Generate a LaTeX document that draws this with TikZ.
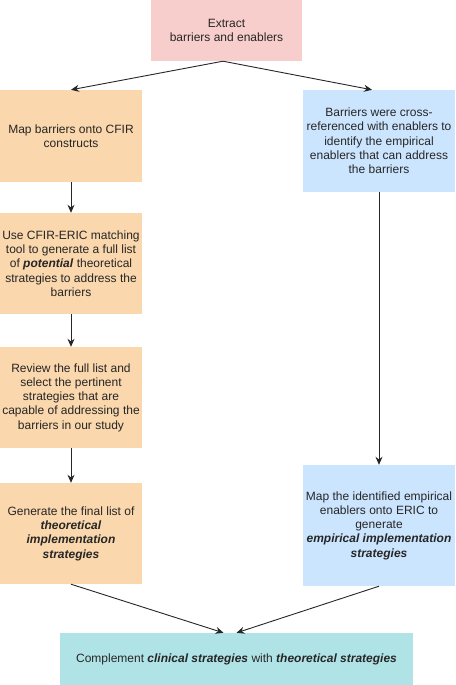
\documentclass[tikz,border=0pt]{standalone}
\usepackage{fontspec}
\setmainfont{Liberation Sans}
\usetikzlibrary{arrows.meta}
\definecolor{cpink}{HTML}{F8CECC}
\definecolor{corange}{HTML}{FAD7AC}
\definecolor{cblue}{HTML}{CCE5FF}
\definecolor{cteal}{HTML}{B0E3E6}
\tikzset{
  box/.style={rectangle, inner sep=0pt, align=center, font=\fontsize{12pt}{14.3pt}\selectfont, text=black!85},
  conn/.style={draw=black!85, line width=0.9pt, -{Stealth[length=8pt,width=7pt]}}
}
\begin{document}
\begin{tikzpicture}[x=1pt,y=-1pt]
\useasboundingbox (0,0) rectangle (455,685);
\node[box, fill=cpink, minimum width=151pt, minimum height=61pt] (top) at (226.5,30.5) {Extract\\barriers and enablers};
\node[box, fill=corange, minimum width=142pt, minimum height=92pt] (L1) at (71,136) {Map barriers onto CFIR\\constructs};
\node[box, fill=corange, minimum width=142pt, minimum height=101pt] (L2) at (71,263.5) {Use CFIR-ERIC matching\\tool to generate a full list\\of \textbf{\textit{potential}} theoretical\\strategies to address the\\barriers};
\node[box, fill=corange, minimum width=142pt, minimum height=101pt] (L3) at (71,397.5) {Review the full list and\\select the pertinent\\strategies that are\\capable of addressing the\\barriers in our study};
\node[box, fill=corange, minimum width=142pt, minimum height=101pt] (L4) at (71,533.5) {Generate the final list of\\\textbf{\textit{theoretical}}\\\textbf{\textit{implementation}}\\\textbf{\textit{strategies}}};
\node[box, fill=cblue, minimum width=152pt, minimum height=102pt] (R1) at (379,141) {Barriers were cross-\\referenced with enablers to\\identify the empirical\\enablers that can address\\the barriers};
\node[box, fill=cblue, minimum width=152pt, minimum height=121pt] (R2) at (379,525.5) {Map the identified empirical\\enablers onto ERIC to\\generate\\\textbf{\textit{empirical implementation}}\\\textbf{\textit{strategies}}};
\node[box, fill=cteal, minimum width=353pt, minimum height=52pt] (B) at (236.5,659) {Complement \textbf{\textit{clinical strategies}} with \textbf{\textit{theoretical strategies}}};
\draw[conn] ([xshift=-3.5pt]top.south) -- (L1.north);
\draw[conn] ([xshift=-3.5pt]top.south) -- ([xshift=-7pt]R1.north);
\draw[conn] (L1.south) -- (L2.north);
\draw[conn] (L2.south) -- (L3.north);
\draw[conn] (L3.south) -- (L4.north);
\draw[conn] (R1.south) -- (R2.north);
\draw[conn] (L4.south) -- ([xshift=-13pt]B.north);
\draw[conn] (R2.south) -- (B.north);
\end{tikzpicture}
\end{document}
